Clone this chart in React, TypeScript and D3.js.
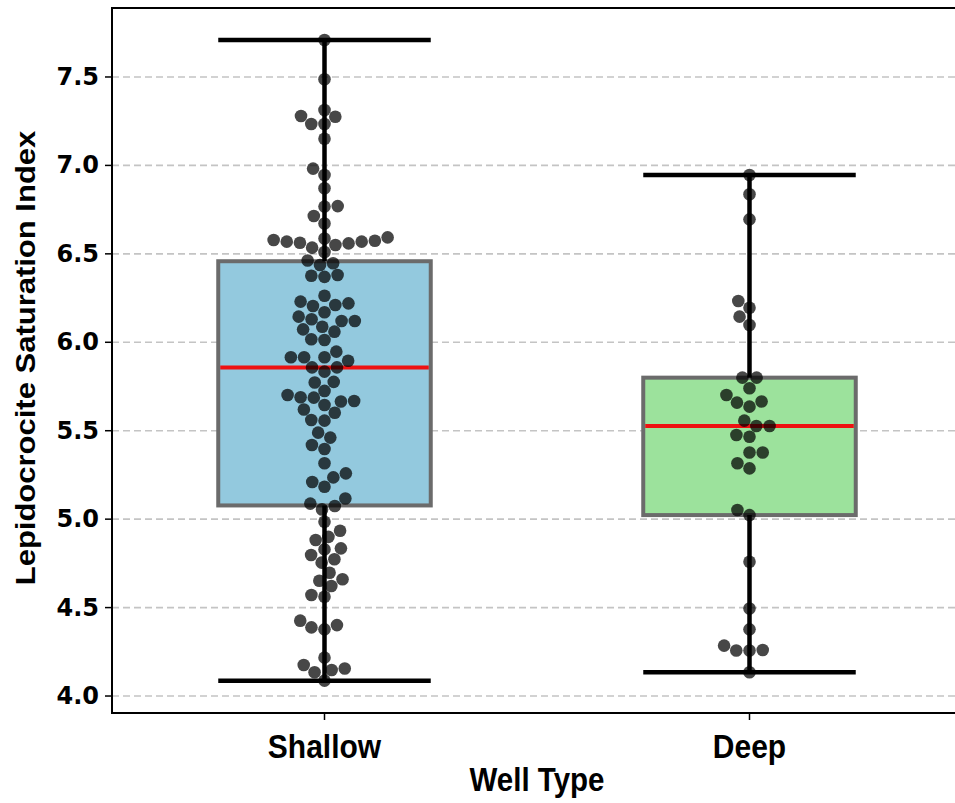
import React from 'react';
import * as d3 from 'd3';

// Well categories and the saturation index measured in each
const categories = ['Shallow', 'Deep'];

const shallowValues = [
  7.709, 7.487, 7.279, 7.313, 7.275, 7.234, 7.234, 7.151, 6.982, 6.946, 6.871, 6.77, 6.767, 6.714, 6.672,
  6.574, 6.569, 6.563, 6.559, 6.587, 6.55, 6.569, 6.578, 6.593, 6.51, 6.535,
  6.437, 6.447, 6.462, 6.376, 6.37, 6.38,
  6.263, 6.22, 6.211, 6.205, 6.23, 6.17, 6.145, 6.13, 6.12, 6.12, 6.088, 6.073, 6.06, 6.017, 6.013,
  5.915, 5.915, 5.915, 5.947, 5.896, 5.858, 5.858, 5.834, 5.773, 5.776, 5.725, 5.702, 5.689, 5.687,
  5.645, 5.665, 5.668, 5.62, 5.602, 5.561, 5.557, 5.489, 5.461, 5.419, 5.397, 5.316, 5.259, 5.236,
  5.21, 5.183, 5.117, 5.088, 5.074, 5.055, 4.985, 4.934, 4.9, 4.882, 4.835, 4.829, 4.797, 4.773, 4.754,
  4.697, 4.66, 4.652, 4.622, 4.571, 4.561, 4.426, 4.388, 4.377, 4.401, 4.217, 4.175, 4.134, 4.147,
  4.156, 4.087,
];

const deepValues = [
  6.946, 6.837, 6.695, 6.233, 6.195, 6.145, 6.098, 5.8, 5.8, 5.74, 5.702, 5.659, 5.636, 5.665,
  5.557, 5.527, 5.527, 5.476, 5.466, 5.377, 5.377, 5.316, 5.287, 5.052, 5.023, 4.759, 4.495,
  4.377, 4.285, 4.257, 4.257, 4.26, 4.134,
];

const seriesValues = [shallowValues, deepValues];
const boxColors = ['#93c9de', '#9ce29c'];
const yTicks = [4.0, 4.5, 5.0, 5.5, 6.0, 6.5, 7.0, 7.5];

const WIDTH = 955;
const HEIGHT = 803;
const margin = { left: 112, top: 8, right: -7, bottom: 90 };
const R = 6.3;

// Seaborn-style beeswarm: points sorted by value, each placed at the
// non-overlapping candidate offset closest to the category centre.
function beeswarm(values: number[], cx: number, y: (v: number) => number, r: number) {
  const pts = values.map((v) => ({ v, y: y(v) })).sort((a, b) => b.y - a.y);
  const placed: { x: number; y: number; v: number }[] = [];
  for (const p of pts) {
    const neighbors: { x: number; y: number }[] = [];
    for (let j = placed.length - 1; j >= 0; j--) {
      if (placed[j].y - p.y < 2 * r) neighbors.push(placed[j]);
      else break;
    }
    const cands: number[] = [cx];
    let leftFirst = true;
    for (const n of neighbors) {
      const dy = p.y - n.y;
      const dx = Math.sqrt(Math.max(4 * r * r - dy * dy, 0)) * 1.05;
      const cl = n.x - dx;
      const cr = n.x + dx;
      if (leftFirst) cands.push(cl, cr);
      else cands.push(cr, cl);
      leftFirst = !leftFirst;
    }
    const ordered = cands
      .map((x, i) => ({ x, i }))
      .sort((a, b) => Math.abs(a.x - cx) - Math.abs(b.x - cx) || a.i - b.i);
    let chosen = cx;
    for (const c of ordered) {
      if (neighbors.every((n) => (n.x - c.x) ** 2 + (n.y - p.y) ** 2 >= 4 * r * r - 1e-9)) {
        chosen = c.x;
        break;
      }
    }
    placed.push({ x: chosen, y: p.y, v: p.v });
  }
  return placed;
}

function boxStats(values: number[]) {
  const s = [...values].sort(d3.ascending);
  const q1 = d3.quantileSorted(s, 0.25)!;
  const med = d3.quantileSorted(s, 0.5)!;
  const q3 = d3.quantileSorted(s, 0.75)!;
  const iqr = q3 - q1;
  const lo = d3.min(s.filter((v) => v >= q1 - 1.5 * iqr))!;
  const hi = d3.max(s.filter((v) => v <= q3 + 1.5 * iqr))!;
  return { q1, med, q3, lo, hi };
}

export default function App() {
  const x0 = margin.left;
  const x1 = WIDTH - margin.right;
  const y0 = margin.top;
  const y1 = HEIGHT - margin.bottom;

  const x = d3.scaleBand<string>().domain(categories).range([x0, x1]).paddingInner(0).paddingOuter(0);
  const y = d3.scaleLinear().domain([3.904, 7.89]).range([y1, y0]);
  const bw = x.bandwidth();

  const tickFont = "'DejaVu Sans', sans-serif";
  const labelFont = "'Liberation Sans', Arial, sans-serif";

  return (
    <svg
      width={WIDTH}
      height={HEIGHT}
      style={{ position: 'absolute', left: 0, top: 0, background: '#fff' }}
    >
      {/* horizontal grid */}
      <g>
        {yTicks.map((t) => (
          <line
            key={t}
            x1={x0}
            x2={x1}
            y1={y(t)}
            y2={y(t)}
            stroke="#c4c4c4"
            strokeWidth={1.6}
            strokeDasharray="7,4"
          />
        ))}
      </g>

      {categories.map((c, i) => {
        const cx = x(c)! + bw / 2;
        const st = boxStats(seriesValues[i]);
        const boxW = bw * 0.5;
        const capW = boxW * 0.5;
        const pts = beeswarm(seriesValues[i], cx, y, R);
        return (
          <g key={c}>
            <rect
              x={cx - boxW / 2}
              y={y(st.q3)}
              width={boxW}
              height={y(st.q1) - y(st.q3)}
              fill={boxColors[i]}
              stroke="#6b6b6b"
              strokeWidth={4}
            />
            <line x1={cx - boxW / 2 + 2} x2={cx + boxW / 2 - 2} y1={y(st.med)} y2={y(st.med)} stroke="#ee1111" strokeWidth={4} />
            <line x1={cx} x2={cx} y1={y(st.q3)} y2={y(st.hi)} stroke="#000" strokeWidth={4.5} />
            <line x1={cx} x2={cx} y1={y(st.q1)} y2={y(st.lo)} stroke="#000" strokeWidth={4.5} />
            <line x1={cx - capW} x2={cx + capW} y1={y(st.hi)} y2={y(st.hi)} stroke="#000" strokeWidth={4.5} />
            <line x1={cx - capW} x2={cx + capW} y1={y(st.lo)} y2={y(st.lo)} stroke="#000" strokeWidth={4.5} />
            {pts.map((p, k) => (
              <circle key={k} cx={p.x} cy={p.y} r={6.3} fill="#000" fillOpacity={0.72} />
            ))}
          </g>
        );
      })}

      {/* frame */}
      <rect x={x0} y={y0} width={x1 - x0} height={y1 - y0} fill="none" stroke="#000" strokeWidth={2} />

      {/* y axis */}
      <g>
        {yTicks.map((t) => (
          <g key={t}>
            <line x1={x0 - 7} x2={x0} y1={y(t)} y2={y(t)} stroke="#000" strokeWidth={1.5} />
            <text
              x={x0 - 13}
              y={y(t)}
              textAnchor="end"
              dominantBaseline="central"
              fontFamily={tickFont}
              fontWeight="bold"
              fontSize={24}
              fill="#000"
            >
              {t.toFixed(1)}
            </text>
          </g>
        ))}
        <text
          transform={`translate(26,358) rotate(-90) scale(1,0.88)`}
          textAnchor="middle"
          dominantBaseline="central"
          fontFamily={labelFont}
          fontWeight="bold"
          fontSize={31}
          fill="#000"
        >
          Lepidocrocite Saturation Index
        </text>
      </g>

      {/* x axis */}
      <g>
        {categories.map((c) => {
          const cx = x(c)! + bw / 2;
          return (
            <g key={c}>
              <line x1={cx} x2={cx} y1={y1} y2={y1 + 7} stroke="#000" strokeWidth={1.5} />
              <text
                transform={`translate(${cx},${y1 + 45}) scale(1,1.1)`}
                textAnchor="middle"
                fontFamily={labelFont}
                fontWeight="bold"
                fontSize={30}
                fill="#000"
              >
                {c}
              </text>
            </g>
          );
        })}
        <text
          transform={`translate(${(x0 + x1) / 2},${y1 + 78}) scale(1,1.1)`}
          textAnchor="middle"
          fontFamily={labelFont}
          fontWeight="bold"
          fontSize={29.5}
          fill="#000"
        >
          Well Type
        </text>
      </g>
    </svg>
  );
}
